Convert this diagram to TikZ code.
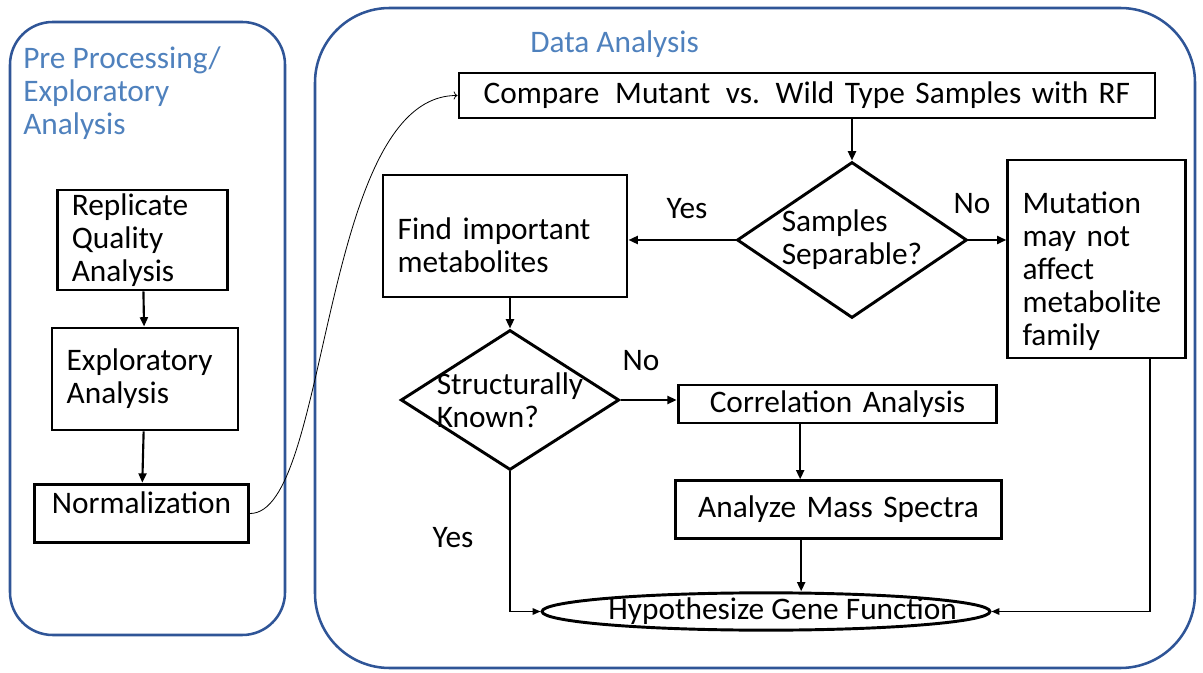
\documentclass[tikz,border=0pt]{standalone}
\usepackage{fontspec}
\setmainfont{Carlito}
\usetikzlibrary{shapes.geometric,arrows.meta}

\definecolor{panelblue}{RGB}{47,85,151}
\definecolor{titleblue}{RGB}{79,129,189}

\tikzset{
  box/.style={draw, line width=2.2pt, inner xsep=11pt, inner ysep=0pt, align=left},
  decision/.style={draw, diamond, line width=2.2pt, inner sep=-2pt, align=left},
  flow/.style={line width=1.6pt, -{Triangle[length=7pt,width=6pt]}},
  thinflow/.style={line width=1pt, -{Triangle[length=6pt,width=5pt]}},
  panel/.style={draw=panelblue, line width=1.9pt},
  title/.style={text=titleblue, inner sep=0pt, align=left}
}

\begin{document}
\begin{tikzpicture}[x=0.75pt,y=0.75pt,yscale=-1,xscale=1,font=\fontsize{23.5}{24.75}\selectfont]
\useasboundingbox (0,0) rectangle (1203,673);

%Shape: Rounded Rectangle
\draw[panel, rounded corners=32pt] (10,22) rectangle (285,635);
%Shape: Rounded Rectangle
\draw[panel, rounded corners=56pt] (315,8) rectangle (1195,668);

% Text Node
\node[title, anchor=north west] (pretitle) at (23,46) {Pre Processing/\\Exploratory\\Analysis};
% Text Node
\node[title, anchor=west] (datatitle) at (530,44) {Data Analysis};

%Pre processing steps
\node[box, text width=106pt, minimum height=75pt] (replicate) at (142.5,240) {Replicate\\Quality\\Analysis};
\node[box, text width=117.5pt, minimum height=76.5pt] (explore) at (145,379) {Exploratory\\Analysis};
\node[box, align=center, text width=138pt, minimum height=44pt, text height=14pt, text depth=14pt] (norm) at (141.5,513.5) {Normalization};

%Data analysis steps
\node[box, align=center, text width=500pt, minimum height=33.75pt] (compare) at (807,95.5) {Compare\ \,Mutant\ \,vs. Wild Type Samples with RF};
\node[decision, aspect=1.47, minimum width=172.5pt, minimum height=117pt] (separable) at (852,240) {Samples\\Separable?};
\node[box, text width=161pt, minimum height=91.5pt] (find) at (505,236) {\rule{0pt}{29.5pt}Find important\\metabolites};
\node[box, text width=111pt, minimum height=148.5pt] (mutation) at (1096.5,259) {\rule{0pt}{34pt}Mutation\\may not\\affect\\metabolite\\family};
\node[decision, aspect=1.56, minimum width=163.5pt, minimum height=105pt] (known) at (510,400) {Structurally\\Known?};
\node[box, align=center, text width=217pt, minimum height=28.5pt] (corr) at (837.5,404) {Correlation Analysis};
\node[box, align=center, text width=222pt, minimum height=43pt] (mass) at (838.5,509.5) {Analyze Mass Spectra};
\node[draw, ellipse, line width=2.2pt, inner sep=-25pt, minimum width=336pt, minimum height=28pt] (hyp) at (766,611.5) {\hspace*{25pt}Hypothesize Gene Function};

% Text Node
\node (yesfind) at (687,209) {Yes};
% Text Node
\node (nosep) at (972,204) {No};
% Text Node
\node (noknown) at (641,361) {No};
% Text Node
\node (yesknown) at (453,538) {Yes};

%Connectors
\draw[flow] (replicate) -- (explore);
\draw[flow] (explore) -- (norm);
\draw[line width=0.6pt, ->] (norm.east) .. controls (330,515) and (320,95) .. (compare.west);
\draw[flow] (compare.south -| separable.north) -- (separable.north);
\draw[flow] (separable.west) -- (separable.west -| find.east);
\draw[flow] (separable.east) -- (separable.east -| mutation.west);
\draw[flow] (find.south -| known.north) -- (known.north);
\draw[flow] (known.east) -- (known.east -| corr.west);
\draw[flow] ([xshift=-28pt]corr.south) -- ([xshift=-28pt]corr.south |- mass.north);
\draw[flow] ([xshift=-28pt]mass.south) -- ([xshift=-28pt]mass.south |- hyp.north);
\draw[thinflow] (known.south) |- (hyp.west);
\draw[thinflow] ([xshift=40pt]mutation.south) |- (hyp.east);

\end{tikzpicture}
\end{document}
